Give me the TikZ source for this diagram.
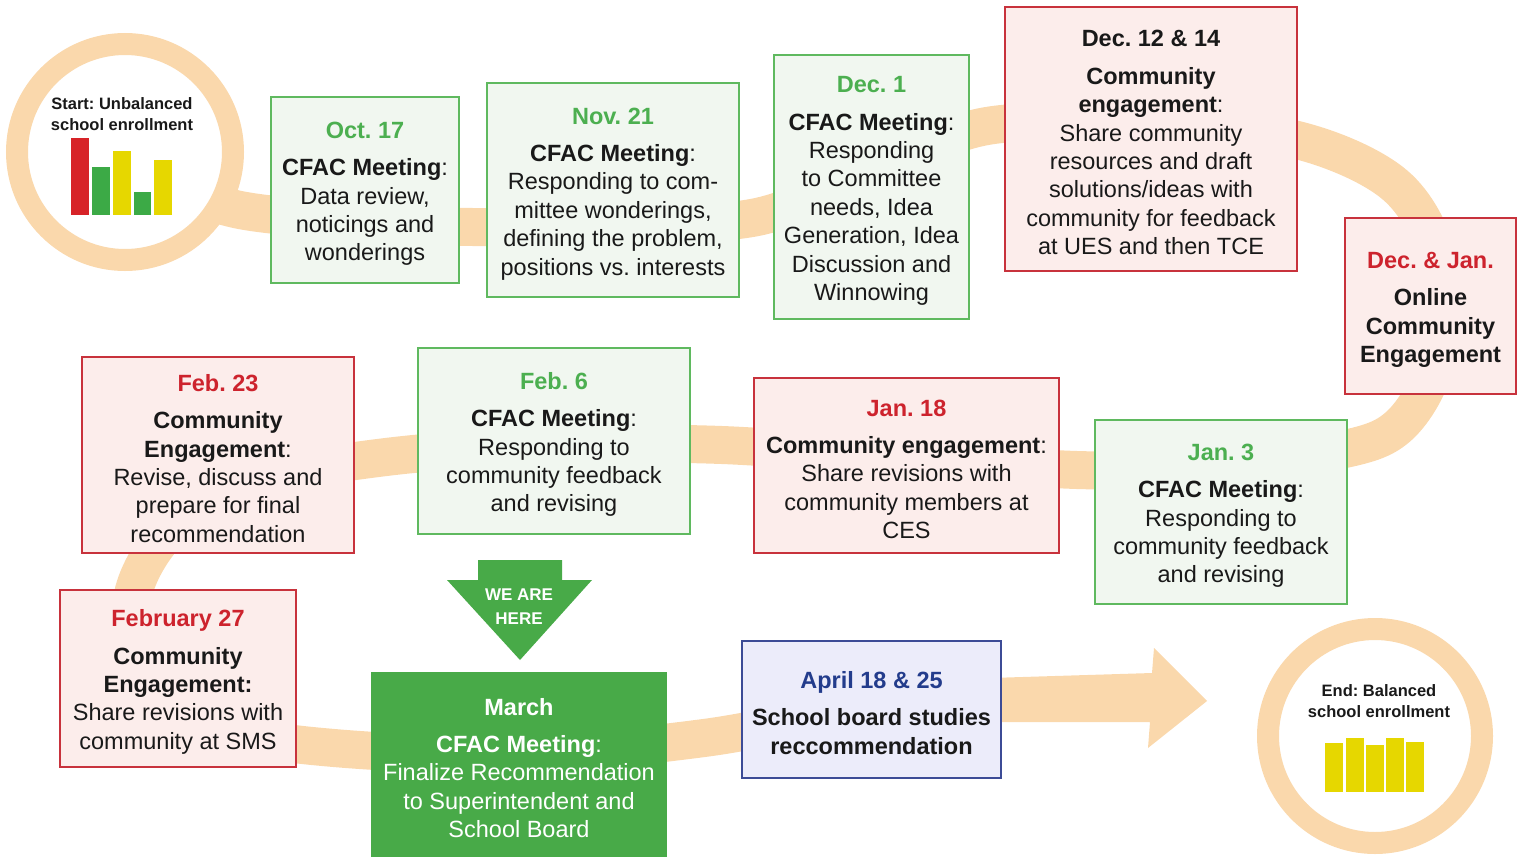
\documentclass[tikz,border=0pt]{standalone}
\usepackage{fontspec}
\setmainfont{Liberation Sans}
\frenchspacing
\definecolor{band}{RGB}{250,216,172}
\definecolor{gborder}{RGB}{95,185,95}
\definecolor{gfill}{RGB}{241,247,240}
\definecolor{gtitle}{RGB}{76,175,80}
\definecolor{rborder}{RGB}{200,50,60}
\definecolor{rfill}{RGB}{252,237,235}
\definecolor{rtitle}{RGB}{205,35,45}
\definecolor{bborder}{RGB}{60,75,150}
\definecolor{bfill}{RGB}{236,236,250}
\definecolor{btitle}{RGB}{35,60,140}
\definecolor{mfill}{RGB}{72,170,72}
\definecolor{txt}{RGB}{25,25,25}
\definecolor{barred}{RGB}{215,35,40}
\definecolor{bargreen}{RGB}{60,170,70}
\definecolor{baryellow}{RGB}{230,215,0}
\newcommand\tgreen[1]{\rule{0pt}{24pt}{\color{gtitle}\bfseries #1}\\[9pt]}
\newcommand\tred[1]{\rule{0pt}{24pt}{\color{rtitle}\bfseries #1}\\[9pt]}
\newcommand\tblue[1]{\rule{0pt}{24pt}{\color{btitle}\bfseries #1}\\[9pt]}
\newcommand\tblack[1]{\rule{0pt}{24pt}{\bfseries #1}\\[9pt]}
\tikzset{
  box/.style={draw, line width=1.6pt, align=center, inner sep=0pt, text=txt,
    font=\fontsize{23.5}{28.4}\selectfont},
  gbox/.style={box, draw=gborder, fill=gfill},
  rbox/.style={box, draw=rborder, fill=rfill},
  bbox/.style={box, draw=bborder, fill=bfill},
  mbox/.style={box, draw=mfill, fill=mfill, text=white},
  bandline/.style={draw=band, line width=38pt},
  ring/.style={draw=band, line width=22pt, fill=white},
  endtext/.style={align=center, text=txt, font=\fontsize{16.5}{21}\selectfont\bfseries},
}
\begin{document}
\begin{tikzpicture}[x=1pt,y=-1pt]
\useasboundingbox (0,0) rectangle (1518,860);
% orange band
\draw[bandline] plot[smooth, tension=0.55] coordinates {(150,180) (240,210) (365,222) (473,227) (613,225) (757,217) (870,172) (987,126) (1150,124) (1297,140) (1395,185) (1438,260) (1436,360) (1400,425) (1340,450) (1200,467) (1077,470) (900,458) (722,445) (550,445) (386,457) (250,482) (170,530) (132,600) (150,680) (230,730) (334,748) (520,755) (704,738) (850,712) (990,700)};
\fill[band] (990,678) -- (1152,673) -- (1154,648) -- (1207,701) -- (1148,748) -- (1150,722) -- (990,722) -- cycle;
% start circle
\draw[ring] (125,152) circle[radius=108];
\node[endtext] (starttext) at (122,114) {Start: Unbalanced\\school enrollment};
\fill[barred]    (71,138) rectangle (89,215);
\fill[bargreen]  (92,167) rectangle (110,215);
\fill[baryellow] (113,151) rectangle (131,215);
\fill[bargreen]  (134,192) rectangle (151,215);
\fill[baryellow] (154,160) rectangle (172,215);
% end circle
\draw[ring] (1375,736) circle[radius=107];
\node[endtext] (endtext) at (1379,701) {End: Balanced\\school enrollment};
\fill[baryellow] (1325,743) rectangle (1343,792);
\fill[baryellow] (1346,738) rectangle (1364,792);
\fill[baryellow] (1366,745) rectangle (1384,792);
\fill[baryellow] (1386,738) rectangle (1404,792);
\fill[baryellow] (1406,742) rectangle (1424,792);
% we are here arrow
\fill[mfill] (478,560) -- (562,560) -- (562,580) -- (592,580) -- (520,660) -- (447,580) -- (478,580) -- cycle;
\node[align=center, text=white, font=\fontsize{17}{24}\selectfont\bfseries] (here) at (519,607) {WE ARE\\HERE};
% boxes
\node[gbox, minimum width=188pt, minimum height=186pt] (oct) at (365,190)
  {\tgreen{Oct. 17}\textbf{CFAC Meeting}:\\Data review,\\noticings and\\wonderings};
\node[gbox, minimum width=252pt, minimum height=214pt] (nov) at (613,190)
  {\tgreen{Nov. 21}\textbf{CFAC Meeting}:\\Responding to com-\\mittee wonderings,\\defining the problem,\\positions vs. interests};
\node[gbox, minimum width=195pt, minimum height=264pt] (dec1) at (871.5,187)
  {\tgreen{Dec. 1}\textbf{CFAC Meeting}:\\Responding\\to Committee\\needs, Idea\\Generation, Idea\\Discussion and\\Winnowing};
\node[rbox, minimum width=292pt, minimum height=264pt] (dec12) at (1151,139)
  {\tblack{Dec. 12 \& 14}\textbf{Community}\\\textbf{engagement}:\\Share community\\resources and draft\\solutions/ideas with\\community for feedback\\at UES and then TCE};
\node[rbox, minimum width=171pt, minimum height=176pt] (decjan) at (1430.5,306)
  {\tred{Dec. \& Jan.}\textbf{Online}\\\textbf{Community}\\\textbf{Engagement}};
\node[gbox, minimum width=252pt, minimum height=184pt] (jan3) at (1221,512)
  {\tgreen{Jan. 3}\textbf{CFAC Meeting}:\\Responding to\\community feedback\\and revising};
\node[rbox, minimum width=305pt, minimum height=175pt] (jan18) at (906.5,465.5)
  {\tred{Jan. 18}\textbf{Community engagement}:\\Share revisions with\\community members at\\CES};
\node[gbox, minimum width=272pt, minimum height=186pt] (feb6) at (554,441)
  {\tgreen{Feb. 6}\textbf{CFAC Meeting}:\\Responding to\\community feedback\\and revising};
\node[rbox, minimum width=272pt, minimum height=196pt] (feb23) at (218,455)
  {\tred{Feb. 23}\textbf{Community}\\\textbf{Engagement}:\\Revise, discuss and\\prepare for final\\recommendation};
\node[rbox, minimum width=236pt, minimum height=177pt] (feb27) at (178,678.5)
  {\tred{February 27}\textbf{Community}\\\textbf{Engagement:}\\Share revisions with\\community at SMS};
\node[mbox, minimum width=294pt, minimum height=183pt] (march) at (519,764.5)
  {\tblack{March}\textbf{CFAC Meeting}:\\Finalize Recommendation\\to Superintendent and\\School Board};
\node[bbox, minimum width=259pt, minimum height=137pt] (april) at (871.5,709.5)
  {\tblue{April 18 \& 25}\textbf{School board studies}\\\textbf{reccommendation}};
\end{tikzpicture}
\end{document}
